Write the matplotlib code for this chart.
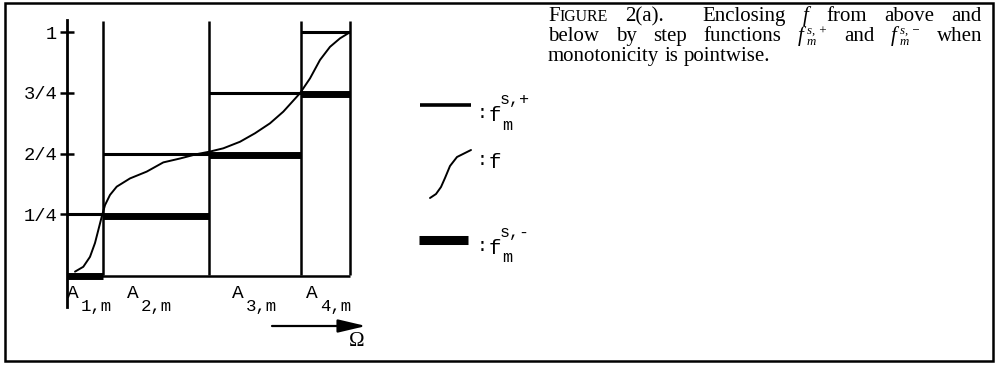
import matplotlib
matplotlib.use("Agg")
import matplotlib.pyplot as plt
from matplotlib.patches import Rectangle

plt.rcParams['mathtext.fontset'] = 'custom'
plt.rcParams['mathtext.rm'] = 'Liberation Serif'
plt.rcParams['mathtext.it'] = 'Liberation Serif:italic'

MONO = 'Liberation Mono'
SERIF = 'Liberation Serif'

# cell edges of A_1,m .. A_4,m along Omega
bounds = [0.0, 0.36, 1.42, 2.34, 2.83]
upper = [0.25, 0.5, 0.75, 1.0]      # f_m^{s,+}
lower = [0.0, 0.25, 0.5, 0.75]      # f_m^{s,-}
ytick_vals = [0.25, 0.5, 0.75, 1.0]
ytick_labels = ['1/4', '2/4', '3/4', '1']
cell_subs = ['1,m', '2,m', '3,m', '4,m']

# the monotone function f
f_x = [0.08, 0.163, 0.23, 0.28, 0.313, 0.347, 0.38, 0.43, 0.497, 0.63, 0.797,
       0.963, 1.13, 1.297, 1.423, 1.563, 1.73, 1.88, 2.03, 2.163, 2.33, 2.43,
       2.53, 2.63, 2.73, 2.813]
f_y = [0.014, 0.034, 0.075, 0.132, 0.185, 0.240, 0.288, 0.330, 0.364, 0.398,
       0.426, 0.464, 0.480, 0.498, 0.508, 0.522, 0.549, 0.584, 0.625, 0.673,
       0.749, 0.810, 0.886, 0.940, 0.975, 0.996]

fig = plt.figure(figsize=(9.98, 3.65), dpi=100)

# overlay in pixel units for frame, legend, caption
ax0 = fig.add_axes([0, 0, 1, 1])
ax0.set_xlim(0, 998)
ax0.set_ylim(365, 0)
ax0.axis('off')

# chart axes
ax = fig.add_axes([7 / 998, 1 - 360 / 365, 360 / 998, 352 / 365])
ax.set_xlim(-0.6, 3.0)
ax.set_ylim(-0.35, 1.1)
ax.patch.set_visible(False)
for s in ['top', 'right', 'bottom']:
    ax.spines[s].set_visible(False)
ax.spines['left'].set_position(('data', 0))
ax.spines['left'].set_bounds(-0.132, 1.05)
ax.spines['left'].set_linewidth(2.0)
ax.set_xticks([])
ax.set_yticks(ytick_vals)
ax.set_yticklabels(ytick_labels, family=MONO, fontsize=13.5)
ax.tick_params(axis='y', direction='inout', length=10, width=1.8, pad=2)

lw_thin = 1.8
ax.vlines(bounds[1:], 0, 1.046, color='k', lw=lw_thin)
ax.hlines(-0.004, bounds[0], bounds[-1], color='k', lw=lw_thin)
ax.hlines(upper, bounds[:-1], bounds[1:], color='k', lw=2.2)
ax.hlines([v - 0.006 for v in lower], bounds[:-1], bounds[1:], color='k', lw=5)
ax.plot(f_x, f_y, color='k', lw=1.4, solid_capstyle='round')

# cell labels A_{i,m}
a_px = [67, 127, 232, 306]
for xp, sub in zip(a_px, cell_subs):
    ax0.text(xp, 298, 'A', family=MONO, fontsize=14, ha='left', va='baseline')
    ax0.text(xp + 14, 311, sub, family=MONO, fontsize=12.5, ha='left', va='baseline')

# Omega arrow
ax0.annotate('', xy=(366, 326), xytext=(272, 326),
             arrowprops=dict(arrowstyle='-|>,head_length=0.85,head_width=0.2',
                             lw=1.6, color='k', mutation_scale=20,
                             shrinkA=0, shrinkB=0))
ax0.text(357, 342, 'Ω', family=SERIF, fontsize=15, ha='center', va='center')

# frame
ax0.add_patch(Rectangle((5, 3), 988, 358, fill=False, lw=1.8, ec='k'))

# legend
ax0.plot([420, 471], [105, 105], color='k', lw=2.6, solid_capstyle='butt')
ax0.text(477, 118, ':', family=MONO, fontsize=13, ha='left', va='baseline')
ax0.text(489, 121, 'f', family=MONO, fontsize=15, ha='left', va='baseline')
ax0.text(500, 104, 's,+', family=MONO, fontsize=12, ha='left', va='baseline')
ax0.text(502, 130, 'm', family=MONO, fontsize=12, ha='left', va='baseline')

leg_cx = [430, 436, 441, 445, 450, 457, 465, 471]
leg_cy = [198, 194, 187, 178, 166, 157, 153, 150]
ax0.plot(leg_cx, leg_cy, color='k', lw=1.4, solid_capstyle='round')
ax0.text(477, 165, ':', family=MONO, fontsize=13, ha='left', va='baseline')
ax0.text(489, 168, 'f', family=MONO, fontsize=15, ha='left', va='baseline')

ax0.plot([419, 468], [240, 240], color='k', lw=6.5, solid_capstyle='butt')
ax0.text(477, 251, ':', family=MONO, fontsize=13, ha='left', va='baseline')
ax0.text(489, 254, 'f', family=MONO, fontsize=15, ha='left', va='baseline')
ax0.text(500, 237, 's,-', family=MONO, fontsize=12, ha='left', va='baseline')
ax0.text(502, 262, 'm', family=MONO, fontsize=12, ha='left', va='baseline')

# caption, justified by hand
renderer = fig.canvas.get_renderer()
CAP = 15
SM = CAP * 0.62


def put_line(words, x0, x1, y, justify=True, weights=None):
    # piece: (text, size, dy, italic, stacked-with-next, gap before)
    arts = []
    widths = []
    for word in words:
        pieces = []
        wd = 0
        held = 0
        for s, size, dy, ital, stack, gap in word:
            t = ax0.text(0, y + dy, s, family=SERIF, fontsize=size,
                         style='italic' if ital else 'normal',
                         ha='left', va='baseline')
            pw = t.get_window_extent(renderer).width
            pieces.append((t, pw, stack, gap))
            if stack:
                held = max(held, pw)
                wd += gap
            else:
                wd += max(held, pw) + (0 if held else gap)
                held = 0
        arts.append(pieces)
        widths.append(wd)
    n = len(words)
    if weights is None:
        weights = [1] * (n - 1)
    if justify:
        unit = (x1 - x0 - sum(widths)) / sum(weights)
    else:
        unit = CAP * 1.389 * 0.25
    x = x0
    for i, pieces in enumerate(arts):
        held = 0
        for t, pw, stack, gap in pieces:
            if not held:
                x += gap
            t.set_x(x)
            if stack:
                held = max(held, pw)
            else:
                x += max(held, pw)
                held = 0
        if i < n - 1:
            x += unit * weights[i]


def w(s, size=CAP, dy=0, ital=False, stack=False, gap=0):
    return (s, size, dy, ital, stack, gap)


def fstep(sign):
    return [w('f', ital=True), w('s, ' + sign, SM, -7, True, True, 3),
            w('m', SM, 4, True)]


line1 = [[w('F'), w('IGURE', CAP * 0.76)], [w('2(a).')],
         [w('Enclosing')], [w('f', ital=True)], [w('from')],
         [w('above')], [w('and')]]
line2 = [[w('below')], [w('by')], [w('step')], [w('functions')],
         fstep('+'), [w('and')], fstep('\u2212'), [w('when')]]
line3 = [[w('monotonicity')], [w('is')], [w('pointwise.')]]

put_line(line1, 548, 982, 21, weights=[1, 2.2, 1, 1, 1, 1])
put_line(line2, 548, 982, 41)
put_line(line3, 548, 982, 61, justify=False)

fig.savefig('out.png', dpi=100)
